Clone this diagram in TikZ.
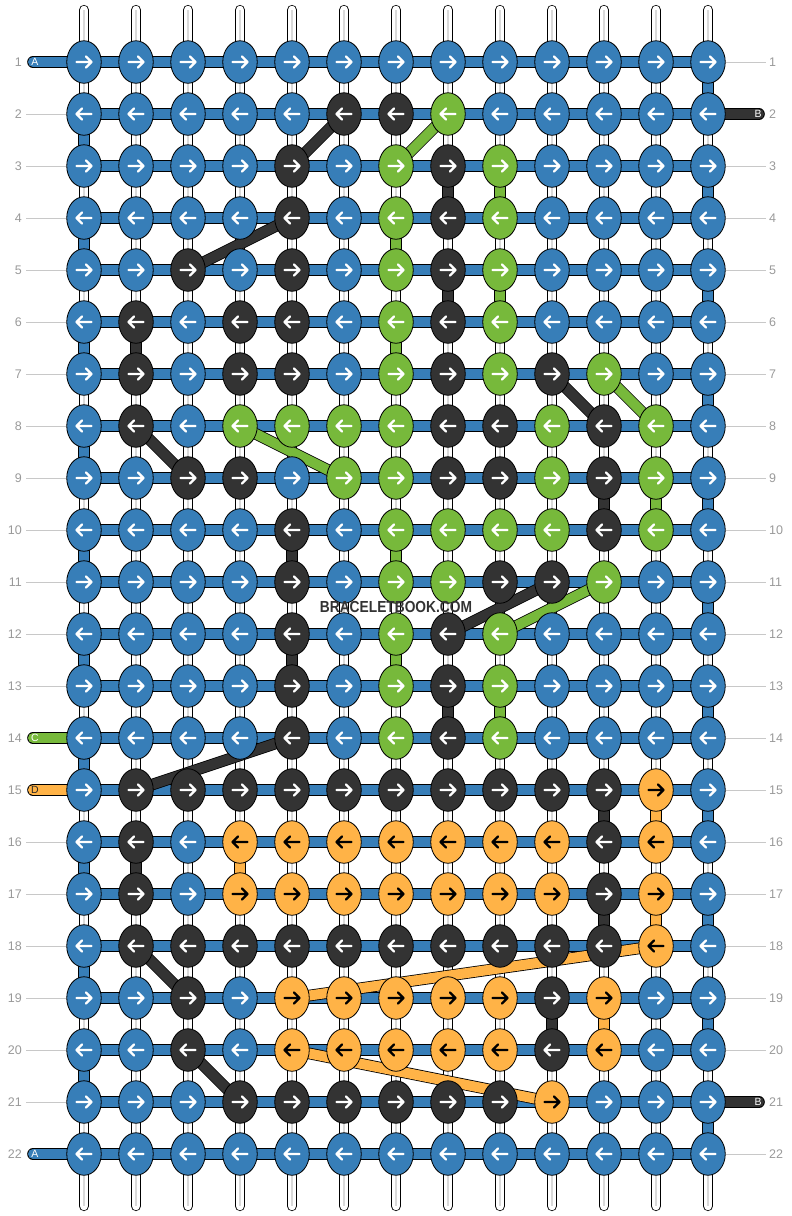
\documentclass[tikz,border=0pt]{standalone}
\usepackage{fontspec}
\setmainfont{Liberation Sans}
\usetikzlibrary{shapes.geometric}

\definecolor{knotb}{HTML}{377EB8}
\definecolor{knotk}{HTML}{333333}
\definecolor{knotg}{HTML}{77B93B}
\definecolor{knoto}{HTML}{FFB347}
\colorlet{arrowb}{white}
\colorlet{arrowk}{white}
\colorlet{arrowg}{white}
\colorlet{arrowo}{black}
\definecolor{numgray}{HTML}{999999}
\definecolor{linegray}{HTML}{C8C8C8}

\pgfdeclarelayer{strings}
\pgfdeclarelayer{threads}
\pgfsetlayers{strings,threads,main}

\tikzset{
    knotnode/.style={
           ellipse,
           draw=black, line width=0.8pt,
           minimum width=34.5pt,
           minimum height=42.5pt,
           inner sep=0pt,
           },
    % arrow inside a knot, #1 = 1 (right) or -1 (left), #2 = colour
    knotarrow/.style 2 args={path picture={
           \draw[#2, line width=2.4pt, line cap=round, line join=round]
               ([xshift={-7.5pt*#1}]path picture bounding box.center) -- ++({15pt*#1},0pt)
               ++({-5.5pt*#1},5.5pt) -- ++({5.5pt*#1},-5.5pt) -- ++({-5.5pt*#1},-5.5pt);}},
    thread/.style={draw=black, line width=0.8pt, double=#1, double distance=10pt},
    warp/.style={draw=black, line width=0.8pt, double=white, double distance=8.6pt, line cap=round},
    warpcore/.style={draw=gray!30, line width=1.2pt},
    rownum/.style={font=\fontsize{12.5}{14}\selectfont, text=numgray, inner sep=0pt},
    numline/.style={draw=linegray, line width=1pt},
    endlabel/.style={font=\fontsize{10.5}{12}\selectfont, inner sep=0pt},
    brand/.style={font=\bfseries\fontsize{16}{18}\selectfont, text=black!80, inner sep=0pt},
}

\begin{document}
\begin{tikzpicture}[x=1pt, y=-1pt]
        \useasboundingbox (0,0) rectangle (792,1216);

        % KNOTS
        % one row per line: row / direction / colour of each knot
        \foreach \r/\d/\row in {
            1/1/{b,b,b,b,b,b,b,b,b,b,b,b,b},
            2/-1/{b,b,b,b,b,k,k,g,b,b,b,b,b},
            3/1/{b,b,b,b,k,b,g,k,g,b,b,b,b},
            4/-1/{b,b,b,b,k,b,g,k,g,b,b,b,b},
            5/1/{b,b,k,b,k,b,g,k,g,b,b,b,b},
            6/-1/{b,k,b,k,k,b,g,k,g,b,b,b,b},
            7/1/{b,k,b,k,k,b,g,k,g,k,g,b,b},
            8/-1/{b,k,b,g,g,g,g,k,k,g,k,g,b},
            9/1/{b,b,k,k,b,g,g,k,k,g,k,g,b},
            10/-1/{b,b,b,b,k,b,g,g,g,g,k,g,b},
            11/1/{b,b,b,b,k,b,g,g,k,k,g,b,b},
            12/-1/{b,b,b,b,k,b,g,k,g,b,b,b,b},
            13/1/{b,b,b,b,k,b,g,k,g,b,b,b,b},
            14/-1/{b,b,b,b,k,b,g,k,g,b,b,b,b},
            15/1/{b,k,k,k,k,k,k,k,k,k,k,o,b},
            16/-1/{b,k,b,o,o,o,o,o,o,o,k,o,b},
            17/1/{b,k,b,o,o,o,o,o,o,o,k,o,b},
            18/-1/{b,k,k,k,k,k,k,k,k,k,k,o,b},
            19/1/{b,b,k,b,o,o,o,o,o,k,o,b,b},
            20/-1/{b,b,k,b,o,o,o,o,o,k,o,b,b},
            21/1/{b,b,b,k,k,k,k,k,k,o,b,b,b},
            22/-1/{b,b,b,b,b,b,b,b,b,b,b,b,b}%
        }{
            \foreach \t [count=\c] in \row {
                \node[knotnode, fill=knot\t, knotarrow={\d}{arrow\t}]
                    (knot-\r-\c) at ({84+52*(\c-1)}, {62+52*(\r-1)}) {};
            }
        }

        % ROW NUMBERS
        \foreach \r in {1,...,22} {
            \node[rownum, anchor=east] (numL-\r) at (22, {62+52*(\r-1)}) {\r};
            \node[rownum, anchor=west] (numR-\r) at (769, {62+52*(\r-1)}) {\r};
        }
        \foreach \r in {2,3,4,5,6,7,8,9,10,11,12,13,16,17,18,19,20,21}
            \draw[numline] ([xshift=4pt]numL-\r.east) -- (knot-\r-1.west);
        \foreach \r in {1,3,4,5,6,7,8,9,10,11,12,13,14,15,16,17,18,19,20,22}
            \draw[numline] (knot-\r-13.east) -- ([xshift=-3pt]numR-\r.west);

        % THREAD ENDS
        \coordinate (endA-1) at (33,62);
        \coordinate (endA-22) at (33,1154);
        \coordinate (endC) at (33,738);
        \coordinate (endD) at (33,790);
        \coordinate (endB-2) at (759,114);
        \coordinate (endB-21) at (759,1102);

        % WARP STRINGS
        \begin{pgfonlayer}{strings}
        \coordinate (warptop) at (0,10);
        \coordinate (warpbot) at (0,1206);
        \foreach \c in {1,...,13} {
            \draw[warp] (warptop -| knot-1-\c.center) -- (warpbot -| knot-1-\c.center);
            \draw[warpcore] (warptop -| knot-1-\c.center) -- (warpbot -| knot-1-\c.center);
        }
        \end{pgfonlayer}

        \begin{pgfonlayer}{threads}
        % thread A along every row
        \foreach \r in {1,...,22}
            \draw[thread=knotb] (knot-\r-1.center) -- (knot-\r-13.center);
        % thread A turning at the ends of the rows
        \foreach \r [evaluate=\r as \s using int(\r+1)] in {1,3,...,21}
            \draw[thread=knotb] (knot-\r-13.center) -- (knot-\s-13.center);
        \foreach \r [evaluate=\r as \s using int(\r+1)] in {2,4,...,20}
            \draw[thread=knotb] (knot-\r-1.center) -- (knot-\s-1.center);

        % loose ends
        \draw[thread=knotb, line cap=round] (endA-1) -- (knot-1-1.center);
        \draw[thread=knotb, line cap=round] (endA-22) -- (knot-22-1.center);
        \draw[thread=knotg, line cap=round] (endC) -- (knot-14-1.center);
        \draw[thread=knoto, line cap=round] (endD) -- (knot-15-1.center);
        \draw[thread=knotk, line cap=round] (knot-2-13.center) -- (endB-2);
        \draw[thread=knotk, line cap=round] (knot-21-13.center) -- (endB-21);

        % straight links between rows
        \foreach \a/\b/\t in {3-8/4-8/k, 3-9/4-9/g, 4-7/5-7/g, 5-8/6-8/k, 5-9/6-9/g,
                6-2/7-2/k, 6-7/7-7/g, 9-11/10-11/k, 9-12/10-12/g, 10-5/11-5/k,
                10-7/11-7/g, 12-5/13-5/k, 12-7/13-7/g, 13-8/14-8/k, 13-9/14-9/g,
                15-11/16-11/k, 15-12/16-12/o, 16-2/17-2/k, 16-4/17-4/o,
                17-11/18-11/k, 17-12/18-12/o, 19-10/20-10/k, 19-11/20-11/o}
            \draw[thread=knot\t] (knot-\a.center) -- (knot-\b.center);

        % slanted links
        \foreach \a/\b/\t in {2-6/3-5/k, 2-8/3-7/g, 4-5/5-3/k, 7-10/8-11/k, 7-11/8-12/g,
                8-2/9-3/k, 8-4/9-6/g, 11-10/12-8/k, 11-11/12-9/g, 14-5/15-2/k,
                18-2/19-3/k, 18-12/19-5/o, 20-3/21-4/k, 20-5/21-10/o}
            \draw[thread=knot\t] (knot-\a.center) -- (knot-\b.center);
        \end{pgfonlayer}

        % labels of the loose ends
        \node[endlabel, text=white] (labA-1) at (35,62) {A};
        \node[endlabel, text=white] (labA-22) at (35,1154) {A};
        \node[endlabel, text=white] (labC) at (35,738) {C};
        \node[endlabel, text=black!85] (labD) at (35,790) {D};
        \node[endlabel, text=white] (labB-2) at (758,114) {B};
        \node[endlabel, text=white] (labB-21) at (758,1102) {B};

        \node[brand] (brandmark) at (396,607) {\scalebox{0.86}[1]{BRACELETBOOK.COM}};

\end{tikzpicture}
\end{document}
